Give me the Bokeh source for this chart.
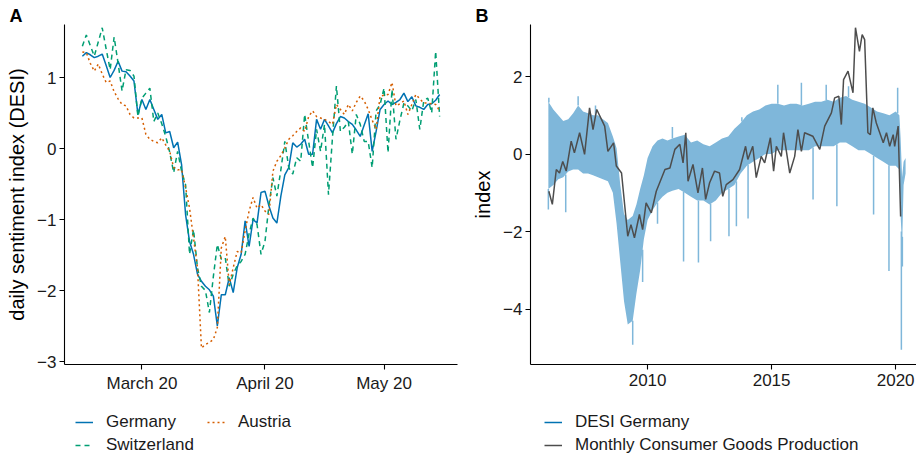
import numpy as np
import pandas as pd
from bokeh.plotting import figure
from bokeh.layouts import row, column
from bokeh.models import (Range1d, FixedTicker, DatetimeTickFormatter, Legend,
                          LegendItem, ColumnDataSource, Title)
from bokeh.embed import file_html
from bokeh.resources import INLINE

FONT = "Liberation Sans"

# ---------------- Panel A: daily sentiment index ----------------
start_date = "2020-03-05"
germany = [1.30, 1.35, 1.32, 1.28, 1.30, 1.33, 1.17, 1.00, 1.10, 1.23,
           1.09, 1.08, 1.02, 0.95, 0.48, 0.69, 0.55, 0.69, 0.55, 0.41,
           0.48, 0.22, 0.24, 0.01, 0.09, -0.23, -0.93, -1.31, -1.49, -1.77,
           -1.87, -1.94, -1.99, -2.08, -2.50, -2.06, -2.06, -1.82, -2.03, -1.68,
           -1.49, -1.02, -1.38, -1.00, -1.05, -0.62, -0.60, -0.81, -0.98, -1.05,
           -0.67, -0.37, -0.27, 0.08, 0.02, 0.06, 0.13, -0.08, -0.08, 0.41,
           0.27, 0.41, 0.32, 0.22, 0.35, 0.45, 0.43, 0.38, 0.34, 0.26,
           0.17, 0.33, 0.49, -0.04, 0.24, 0.55, 0.62, 0.67, 0.62, 0.65,
           0.69, 0.78, 0.66, 0.73, 0.60, 0.58, 0.55, 0.62, 0.63, 0.68, 0.76]
switzerland = [1.44, 1.60, 1.45, 1.30, 1.50, 1.70, 1.40, 1.11, 1.57, 1.20,
               0.81, 1.11, 1.10, 1.02, 0.45, 0.71, 0.78, 0.85, 0.38, 0.50,
               0.35, 0.17, -0.05, -0.34, -0.04, -0.32, -0.51, -1.49, -1.14, -1.68,
               -1.94, -2.00, -2.31, -1.80, -1.35, -1.56, -1.54, -1.94, -1.77, -1.65,
               -1.59, -1.49, -1.20, -0.98, -1.07, -1.49, -1.31, -0.80, -0.41, -0.67,
               -0.30, 0.10, -0.27, -0.36, -0.13, -0.18, 0.48, 0.10, -0.27, 0.27,
               -0.04, 0.34, -0.65, 0.15, 0.88, 0.24, 0.30, 0.38, -0.08, 0.48,
               0.34, 0.10, 0.10, -0.27, 0.53, 0.62, 0.85, -0.06, 0.83, 0.13,
               0.40, 0.64, 0.60, 0.53, 0.69, 0.27, 0.67, 0.71, 0.50, 1.37, 0.45]
austria = [1.36, 1.35, 1.20, 1.09, 1.19, 1.05, 0.93, 0.95, 0.80, 0.70,
           0.62, 0.60, 0.48, 0.43, 0.43, 0.43, 0.20, 0.13, 0.10, 0.08,
           0.15, 0.05, -0.04, -0.27, -0.30, -0.30, -0.55, -0.84, -1.26, -1.68,
           -2.81, -2.76, -2.73, -2.69, -2.52, -1.40, -1.24, -1.92, -1.68, -1.45,
           -1.47, -1.16, -0.88, -0.69, -0.84, -0.79, -0.88, -0.93, -0.32, -0.18,
           -0.10, 0.01, 0.13, 0.18, 0.24, 0.29, 0.24, 0.45, 0.53, 0.45,
           0.43, 0.41, 0.38, 0.34, 0.62, 0.55, 0.48, 0.62, 0.53, 0.65,
           0.74, 0.67, 0.55, 0.40, 0.27, 0.74, 0.75, 0.76, 0.93, 0.60,
           0.63, 0.67, 0.48, 0.62, 0.76, 0.70, 0.64, 0.64, 0.63, 0.62, 0.53]
a_tick_dates = ["2020-03-20", "2020-04-20", "2020-05-20"]
a_yticks = [-3, -2, -1, 0, 1]

# ---------------- Panel B: DESI vs production ----------------
# DESI Germany (daily) summarised by its dense upper / lower edge
desi_year = [2006.00, 2006.20, 2006.40, 2006.60, 2006.80, 2007.00, 2007.20, 2007.40,
             2007.60, 2007.80, 2008.00, 2008.20, 2008.40, 2008.60, 2008.75, 2008.90,
             2009.05, 2009.20, 2009.40, 2009.55, 2009.70, 2009.85, 2010.00, 2010.20,
             2010.40, 2010.60, 2010.80, 2011.00, 2011.25, 2011.50, 2011.75, 2012.00,
             2012.25, 2012.50, 2012.75, 2013.00, 2013.25, 2013.50, 2013.75, 2014.00,
             2014.25, 2014.50, 2014.75, 2015.00, 2015.25, 2015.50, 2015.75, 2016.00,
             2016.25, 2016.50, 2016.75, 2017.00, 2017.25, 2017.50, 2017.75, 2018.00,
             2018.25, 2018.50, 2018.75, 2019.00, 2019.25, 2019.50, 2019.75, 2020.00,
             2020.15, 2020.20, 2020.26, 2020.32, 2020.40]
desi_hi = [1.35, 1.15, 1.00, 0.85, 0.90, 1.05, 1.25, 1.10,
           1.05, 1.00, 1.00, 0.90, 0.80, 0.45, 0.15, -0.80,
           -1.55, -1.70, -1.60, -1.30, -0.90, -0.55, -0.10, 0.20,
           0.35, 0.40, 0.35, 0.40, 0.45, 0.50, 0.30, 0.35,
           0.25, 0.20, 0.30, 0.40, 0.45, 0.65, 0.80, 1.00,
           1.10, 1.15, 1.25, 1.30, 1.30, 1.25, 1.30, 1.30,
           1.25, 1.30, 1.35, 1.35, 1.40, 1.35, 1.45, 1.50,
           1.40, 1.35, 1.30, 1.20, 1.10, 1.05, 1.00, 1.10,
           1.00, 0.40, -0.60, -0.20, -0.10]
desi_lo = [-0.90, -0.80, -0.65, -0.60, -0.45, -0.40, -0.40, -0.50,
           -0.50, -0.55, -0.60, -0.65, -0.70, -1.00, -1.80, -2.80,
           -3.80, -4.40, -4.30, -3.60, -3.00, -2.20, -1.70, -1.45,
           -1.25, -1.10, -1.00, -0.95, -0.90, -1.00, -1.10, -1.20,
           -1.20, -1.30, -1.20, -1.00, -0.90, -0.80, -0.50, -0.30,
           -0.20, -0.10, 0.00, 0.00, 0.10, 0.10, 0.10, 0.10,
           0.10, 0.10, 0.20, 0.20, 0.20, 0.20, 0.30, 0.30,
           0.20, 0.10, 0.10, 0.00, -0.10, -0.20, -0.30, -0.30,
           -0.40, -1.60, -2.40, -0.80, -0.50]
# isolated daily spikes of DESI below / above the dense band
spike_dn_year = [2006.00, 2006.70, 2009.40, 2009.80, 2010.40, 2011.45, 2012.05, 2012.54,
                 2013.28, 2013.58, 2014.05, 2016.67, 2017.63, 2019.11, 2019.73, 2020.23,
                 2020.27]
spike_dn_val = [-1.43, -1.50, -4.92, -3.30, -1.80, -2.77, -2.80, -2.25,
                -2.12, -1.86, -1.66, -1.17, -1.35, -1.56, -3.02, -5.05,
                -2.90]
spike_up_year = [2006.02, 2007.20, 2007.90, 2011.00, 2013.80, 2015.25, 2016.20, 2017.20,
                 2018.10, 2020.08]
spike_up_val = [1.45, 1.49, 1.25, 0.70, 0.95, 1.79, 1.84, 1.79,
                1.75, 1.71]
prod_year = [2006.02, 2006.16, 2006.32, 2006.45, 2006.58, 2006.72, 2006.92, 2007.05,
             2007.26, 2007.46, 2007.66, 2007.80, 2007.95, 2008.27, 2008.40, 2008.63,
             2008.74, 2008.95, 2009.20, 2009.33, 2009.47, 2009.67, 2009.80, 2009.94,
             2010.15, 2010.35, 2010.70, 2010.90, 2011.10, 2011.30, 2011.43, 2011.54,
             2011.63, 2011.83, 2012.03, 2012.21, 2012.34, 2012.50, 2012.70, 2012.90,
             2013.03, 2013.17, 2013.44, 2013.71, 2013.95, 2014.04, 2014.24, 2014.38,
             2014.58, 2014.72, 2014.95, 2015.08, 2015.19, 2015.39, 2015.48, 2015.73,
             2015.93, 2016.06, 2016.20, 2016.33, 2016.66, 2016.94, 2017.14, 2017.41,
             2017.54, 2017.71, 2017.81, 2017.90, 2018.08, 2018.28, 2018.38, 2018.54,
             2018.65, 2018.75, 2018.88, 2018.98, 2019.08, 2019.22, 2019.50, 2019.63,
             2019.76, 2019.90, 2019.96, 2020.10, 2020.20]
prod_val = [-0.96, -1.30, -0.40, -0.49, -0.19, -0.44, 0.33, 0.03,
            0.55, -0.01, 1.19, 0.63, 1.15, 0.72, 0.07, 0.29,
            -0.31, -0.49, -2.12, -1.82, -2.16, -1.56, -1.95, -1.26,
            -1.52, -0.96, -0.40, -0.36, 0.12, 0.25, -0.23, 0.55,
            -0.70, -0.27, -1.00, -0.36, -1.17, -0.74, -0.44, -0.49,
            -1.09, -0.79, -0.66, -0.40, 0.20, -0.14, 0.20, -0.61,
            -0.06, -0.23, 0.42, -0.44, 0.20, -0.06, 0.55, -0.49,
            -0.06, 0.63, 0.07, 0.55, 0.46, 0.12, 0.72, 1.06,
            1.45, 1.49, 0.76, 1.92, 2.14, 1.58, 3.26, 2.65,
            3.08, 2.95, 0.55, 0.50, 1.19, 0.80, 0.29, 0.55,
            0.20, 0.50, 0.20, 0.72, -1.61]
b_xticks = [2010, 2015, 2020]
b_yticks = [-4, -2, 0, 2]

C_GER, C_SUI, C_AUT = "#0072B2", "#009E73", "#D55E00"
C_DESI, C_DESI_KEY, C_PROD = "#7FB7DA", "#0072B2", "#4D4D4D"
TICK_PX, TITLE_PX, LEG_PX = "17px", "20px", "17px"
DASH_SUI, DASH_AUT = "5 4", "2 3"


def style(p):
    p.grid.visible = False
    p.outline_line_color = None
    for ax in (p.xaxis[0], p.yaxis[0]):
        ax.axis_line_color = "black"
        ax.axis_line_width = 1.1
        ax.major_tick_line_color = "black"
        ax.major_tick_line_width = 1.1
        ax.major_tick_out = 5
        ax.major_tick_in = 0
        ax.minor_tick_out = 0
        ax.minor_tick_in = 0
        ax.major_label_text_font = FONT
        ax.major_label_text_font_size = TICK_PX
        ax.major_label_text_color = "#1a1a1a"
        ax.axis_label_text_font = FONT
        ax.axis_label_text_font_style = "normal"
        ax.axis_label_text_font_size = TITLE_PX
        ax.axis_label_text_color = "black"
    p.xaxis[0].major_label_standoff = 4
    p.yaxis[0].major_label_standoff = 3


def panel_title(p, txt):
    p.add_layout(Title(text=txt, align="left", offset=-55, standoff=-3,
                       text_font=FONT, text_font_style="bold",
                       text_font_size="18px", text_color="black"), "above")


def legend_fig(width, entries, nrows, x_off, label_width):
    f = figure(width=width, height=51, output_backend="svg", toolbar_location=None,
               x_axis_location=None, y_axis_location=None, min_border=0,
               x_range=Range1d(0, 1), y_range=Range1d(0, 1))
    f.grid.visible = False
    f.outline_line_color = None
    items = []
    for label, color, dash in entries:
        # key-only renderer: one missing (NaN) point, so nothing is drawn in the strip
        r = f.line(x=[np.nan], y=[np.nan], line_color=color, line_width=1.5,
                   line_dash=dash)
        items.append(LegendItem(label=label, renderers=[r]))
    leg = Legend(items=items, nrows=nrows, orientation="vertical",
                 location=(x_off, 0), padding=0, margin=0, spacing=3,
                 label_standoff=13, glyph_width=18, glyph_height=20,
                 label_height=20, label_width=label_width, label_text_font=FONT,
                 label_text_font_size=LEG_PX, label_text_color="#1a1a1a",
                 border_line_alpha=0, background_fill_alpha=0)
    f.add_layout(leg, "center")
    return f


# ---- figure A
dates = pd.date_range(start_date, periods=len(germany), freq="D")
srcA = ColumnDataSource(dict(d=dates, ger=germany, sui=switzerland, aut=austria))

pA = figure(width=462, height=404, x_axis_type="datetime", output_backend="svg",
            toolbar_location=None, min_border_left=64, min_border_right=5,
            min_border_top=24, min_border_bottom=40,
            x_range=Range1d(pd.Timestamp("2020-02-29 12:00"), pd.Timestamp("2020-06-07 12:00")),
            y_range=Range1d(-3.042, 1.7465))
style(pA)
pA.line("d", "ger", source=srcA, color=C_GER, line_width=1.5)
pA.line("d", "sui", source=srcA, color=C_SUI, line_width=1.5, line_dash=DASH_SUI)
pA.line("d", "aut", source=srcA, color=C_AUT, line_width=1.5, line_dash=DASH_AUT)
pA.xaxis[0].ticker = FixedTicker(ticks=[pd.Timestamp(t).value / 1e6 for t in a_tick_dates])
fmt = "%B %d"
pA.xaxis[0].formatter = DatetimeTickFormatter(days=fmt, months=fmt, years=fmt, hours=fmt,
                                              hourmin=fmt, minutes=fmt, minsec=fmt,
                                              seconds=fmt, milliseconds=fmt,
                                              microseconds=fmt)
pA.yaxis[0].ticker = FixedTicker(ticks=a_yticks)
pA.yaxis[0].major_label_overrides = {-3: "\u22123", -2: "\u22122", -1: "\u22121", 0: "0", 1: "1"}
pA.yaxis[0].axis_label = "daily sentiment index (DESI)"
pA.yaxis[0].axis_label_standoff = 6
panel_title(pA, "A")

# ---- figure B
pB = figure(width=454, height=404, output_backend="svg", toolbar_location=None,
            min_border_left=68, min_border_right=0, min_border_top=24,
            min_border_bottom=40,
            x_range=Range1d(2005.28, 2020.84), y_range=Range1d(-5.43, 3.342))
style(pB)
pB.varea(x=desi_year, y1=desi_lo, y2=desi_hi, fill_color=C_DESI, fill_alpha=1.0)
base_dn = np.interp(spike_dn_year, desi_year, desi_lo)
pB.segment(x0=spike_dn_year, y0=base_dn, x1=spike_dn_year, y1=spike_dn_val,
           line_color=C_DESI, line_width=1.5)
base_up = np.interp(spike_up_year, desi_year, desi_hi)
pB.segment(x0=spike_up_year, y0=base_up, x1=spike_up_year, y1=spike_up_val,
           line_color=C_DESI, line_width=1.5)
pB.line(prod_year, prod_val, line_color=C_PROD, line_width=1.5)
pB.xaxis[0].ticker = FixedTicker(ticks=b_xticks)
pB.yaxis[0].ticker = FixedTicker(ticks=b_yticks)
pB.yaxis[0].major_label_overrides = {-4: "\u22124", -2: "\u22122", 0: "0", 2: "2"}
pB.yaxis[0].axis_label = "index"
pB.yaxis[0].axis_label_standoff = 6
panel_title(pB, "B")

# ---- legends (own strips under the panels)
legA = legend_fig(462, [("Germany", C_GER, "solid"),
                        ("Switzerland", C_SUI, DASH_SUI),
                        ("Austria", C_AUT, DASH_AUT)], 2, 75, 98)
legB = legend_fig(454, [("DESI Germany", C_DESI_KEY, "solid"),
                        ("Monthly Consumer Goods Production", C_PROD, "solid")], 2, 82, 20)

layout = column(row(pA, pB), row(legA, legB))
open("out.html", "w").write(file_html(layout, INLINE))
